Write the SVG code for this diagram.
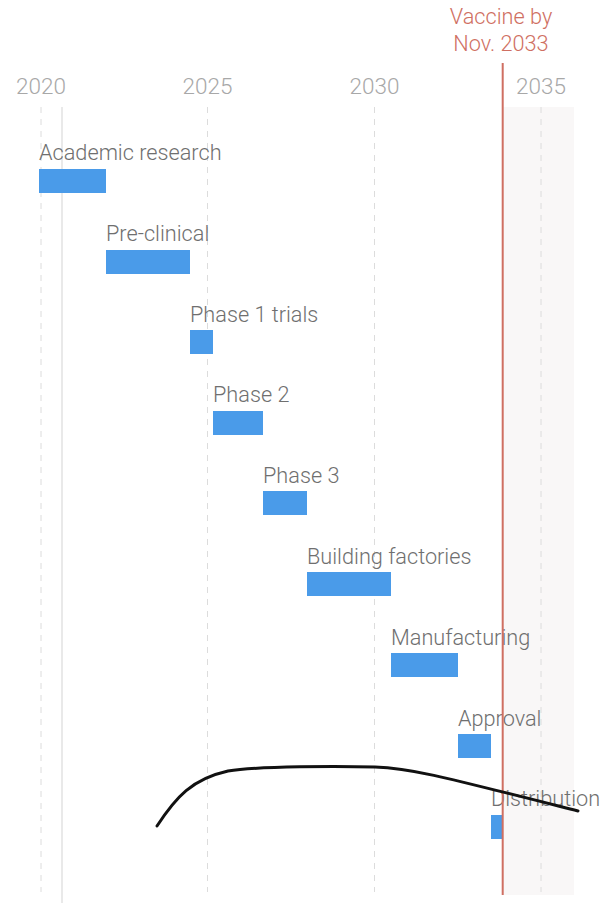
<svg xmlns="http://www.w3.org/2000/svg" width="616" height="903" viewBox="0 0 616 903">
<style>
.yr{font-family:Roboto,"Liberation Sans",sans-serif;font-weight:300;font-size:22.5px;fill:#a8a8a8;text-anchor:middle}
.lbl{font-family:Roboto,"Liberation Sans",sans-serif;font-weight:300;font-size:21.7px;fill:#6f6f6f}
.bar{fill:#4a9be9}
.grid{stroke:#dcdcdc;stroke-width:1;stroke-dasharray:6,6}
.red{font-family:Roboto,"Liberation Sans",sans-serif;font-weight:300;font-size:21.7px;fill:#cf6f62;text-anchor:middle}
</style>
<rect width="616" height="903" fill="#ffffff"/>
<g id="background">
<rect x="503" y="107" width="71" height="788" fill="#f9f7f7"/>
<line class="grid" x1="41" y1="107" x2="41" y2="892"/>
<line class="grid" x1="207.5" y1="107" x2="207.5" y2="892"/>
<line class="grid" x1="374.5" y1="107" x2="374.5" y2="892"/>
<line class="grid" x1="541" y1="107" x2="541" y2="892"/>
<line x1="62" y1="107" x2="62" y2="903" stroke="#e2e2e2" stroke-width="1.5"/>
</g>
<g id="axis">
<text class="yr" x="41" y="94">2020</text>
<text class="yr" x="207.5" y="94">2025</text>
<text class="yr" x="374.5" y="94">2030</text>
<text class="yr" x="541" y="94">2035</text>
</g>
<g id="academic"><text class="lbl" x="39" y="160">Academic research</text><rect class="bar" x="39" y="169" width="67" height="24"/></g>
<g id="preclinical"><text class="lbl" x="106" y="241">Pre-clinical</text><rect class="bar" x="106" y="250" width="84" height="24"/></g>
<g id="phase1"><text class="lbl" x="190" y="322">Phase 1 trials</text><rect class="bar" x="190" y="330" width="23" height="24"/></g>
<g id="phase2"><text class="lbl" x="213" y="402">Phase 2</text><rect class="bar" x="213" y="411" width="50" height="24"/></g>
<g id="phase3"><text class="lbl" x="263" y="483">Phase 3</text><rect class="bar" x="263" y="491" width="44" height="24"/></g>
<g id="factories"><text class="lbl" x="307" y="564">Building factories</text><rect class="bar" x="307" y="572" width="84" height="24"/></g>
<g id="manufacturing"><text class="lbl" x="391" y="645">Manufacturing</text><rect class="bar" x="391" y="653" width="67" height="24"/></g>
<g id="approval"><text class="lbl" x="458" y="726">Approval</text><rect class="bar" x="458" y="734" width="33" height="24"/></g>
<g id="distribution"><text class="lbl" x="491" y="806">Distribution</text><rect class="bar" x="491" y="815" width="12" height="24"/></g>
<g id="deadline">
<line x1="502.7" y1="63" x2="502.7" y2="895" stroke="#cf6f62" stroke-width="2"/>
<text class="red" x="501" y="24">Vaccine by</text>
<text class="red" x="501" y="51">Nov. 2033</text>
</g>
<g id="connectors">
<path d="M157,826 C176,797 192,779 228,771 C258,766 340,766 375,767 C410,768 440,776 578,811" fill="none" stroke="#111" stroke-width="3" stroke-linecap="round"/>
</g>
</svg>
